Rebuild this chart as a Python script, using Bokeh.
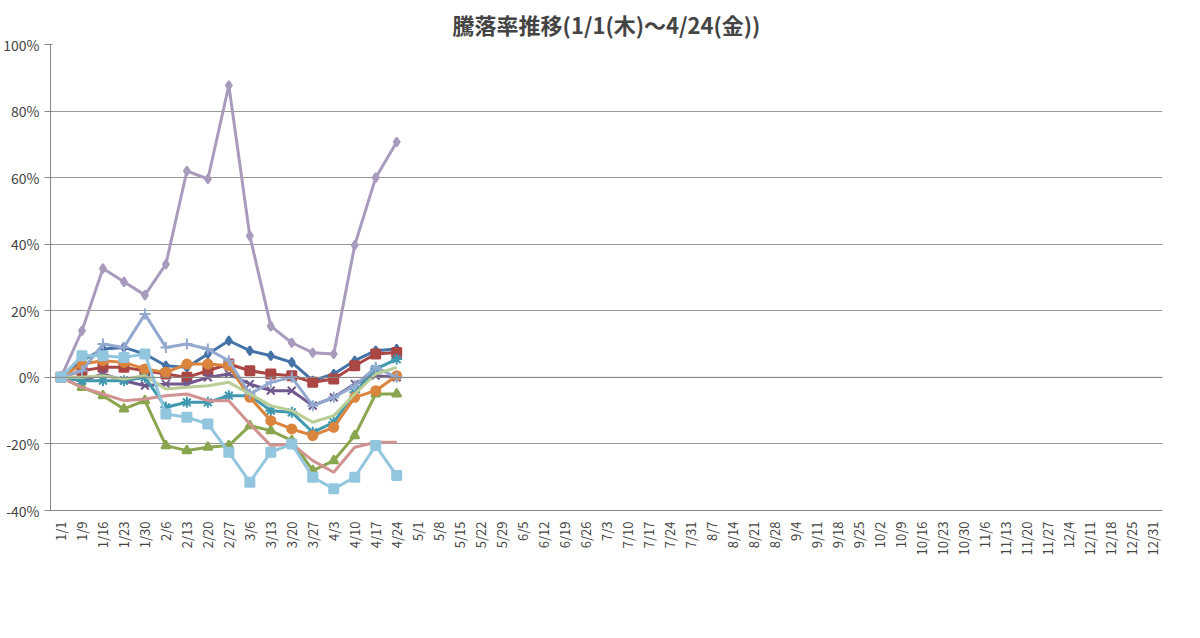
from bokeh.plotting import figure
from bokeh.models import FactorRange, Span, Legend, LegendItem, FixedTicker, CustomJSTickFormatter
from bokeh.embed import file_html
from bokeh.resources import INLINE

dates = ["1/1","1/9","1/16","1/23","1/30","2/6","2/13","2/20","2/27","3/6","3/13","3/20","3/27",
         "4/3","4/10","4/17","4/24","5/1","5/8","5/15","5/22","5/29","6/5","6/12","6/19","6/26",
         "7/3","7/10","7/17","7/24","7/31","8/7","8/14","8/21","8/28","9/4","9/11","9/18","9/25",
         "10/2","10/9","10/16","10/23","10/30","11/6","11/13","11/20","11/27","12/4","12/11",
         "12/18","12/25","12/31"]
data_dates = dates[:17]

kojin   = [0,5,8.5,9,7,3.5,3,7,11,8,6.5,4.5,-1,1,5,8,8.5]
es      = [0,2,3,3,2,1,0,2,4,2,1,0.5,-1.5,-0.5,3.5,7,7.5]
fg      = [0,-3,-5.5,-9.5,-7,-20.5,-22,-21,-20.5,-14.5,-16,-19,-28,-25,-17.5,-5,-5]
bara360 = [0,-1,1,-1,-2.5,-2,-2,0,1,-2,-4,-4,-8.5,-6,-2,0.5,0]
lev100  = [0,-1,-1,-1,0,-9,-7.5,-7.5,-5.5,-5.5,-10,-10.5,-16.5,-13.5,-4.5,2.5,5.5]
dow3s   = [0,4,5,4.5,2.5,1.5,4,4,3.5,-6,-13,-15.5,-17.5,-15,-6,-4,0.5]
levhan  = [0,2,10,9,19,9,10,8.5,5,-5,-1.5,0,-8.5,-6,-2.5,3,0]
aulev   = [0,-3,-5,-7,-6.5,-5.5,-5,-7,-7,-14,-20.5,-20,-25,-28.5,-21,-19.5,-19.5]
lev500  = [0,0,0.5,-0.5,0.5,-3.5,-3,-2.5,-1.5,-5,-8.5,-10,-13.5,-11.5,-5,1,3]
bull43  = [0,14,32.7,28.7,24.7,34,62,59.6,87.7,42.5,15.4,10.4,7.4,7,39.7,60,70.7]
levat   = [0,6.5,6.5,6,7,-11,-12,-14,-22.5,-31.5,-22.5,-20,-30,-33.5,-30,-20.5,-29.5]

series = [
    ("個人(実)", kojin, "#4572A7", "diamond"),
    ("eS全株", es, "#AA4643", "square"),
    ("iFレバFG", fg, "#89A54E", "triangle"),
    ("米バラ360", bara360, "#71588F", "x"),
    ("iFレバ100", lev100, "#4198AF", "asterisk"),
    ("ダウ3σ", dow3s, "#DB843D", "circle"),
    ("レバハン円", levhan, "#93A9CF", "cross"),
    ("auレバイン", aulev, "#D19392", None),
    ("iFレバ500", lev500, "#B9CD96", None),
    ("4.3ブル", bull43, "#A99BBD", "diamond"),
    ("iFレバAT", levat, "#92C5DE", "square"),
]

FONT = "Noto Sans CJK JP"
p = figure(frame_width=1112, frame_height=466, x_range=FactorRange(*dates), y_range=(-40, 100),
           output_backend="svg", toolbar_location=None,
           title="騰落率推移(1/1(木)～4/24(金))",
           min_border_left=10, min_border_right=10, min_border_top=8, min_border_bottom=4)
p.title.align = "center"
p.title.text_font = FONT
p.title.text_font_size = "22px"
p.title.text_font_style = "bold"
p.outline_line_color = None

p.yaxis.ticker = FixedTicker(ticks=[-40, -20, 0, 20, 40, 60, 80, 100])
p.yaxis.formatter = CustomJSTickFormatter(code="return tick + '%';")
p.yaxis.major_label_text_font = FONT
p.yaxis.major_label_text_font_size = "14px"
p.yaxis.axis_line_color = "#888888"
p.yaxis.major_tick_line_color = "#888888"
p.yaxis.minor_tick_line_color = None
p.ygrid.grid_line_color = "#999999"
p.xgrid.grid_line_color = None

p.xaxis.major_label_orientation = 1.5708
p.xaxis.major_label_text_font = FONT
p.xaxis.major_label_text_font_size = "13px"
p.xaxis.axis_line_color = "#888888"
p.xaxis.major_tick_line_color = None

p.add_layout(Span(location=0, dimension="width", line_color="#888888", line_width=1))

items = []
for name, vals, color, marker in series:
    r = [p.line(data_dates, vals, line_color=color, line_width=3)]
    if marker:
        r.append(p.scatter(data_dates, vals, marker=marker,
                           size=9 if marker not in ("x", "asterisk", "cross") else 11,
                           fill_color=color, line_color=color, line_width=2))
    items.append(LegendItem(label=name, renderers=r))

legend = Legend(items=items, orientation="horizontal", location="center",
                label_text_font=FONT, label_text_font_size="12px",
                border_line_color=None, spacing=14, glyph_width=30, padding=2, margin=2)
p.add_layout(legend, "below")

open("out.html", "w").write(file_html(p, INLINE))
